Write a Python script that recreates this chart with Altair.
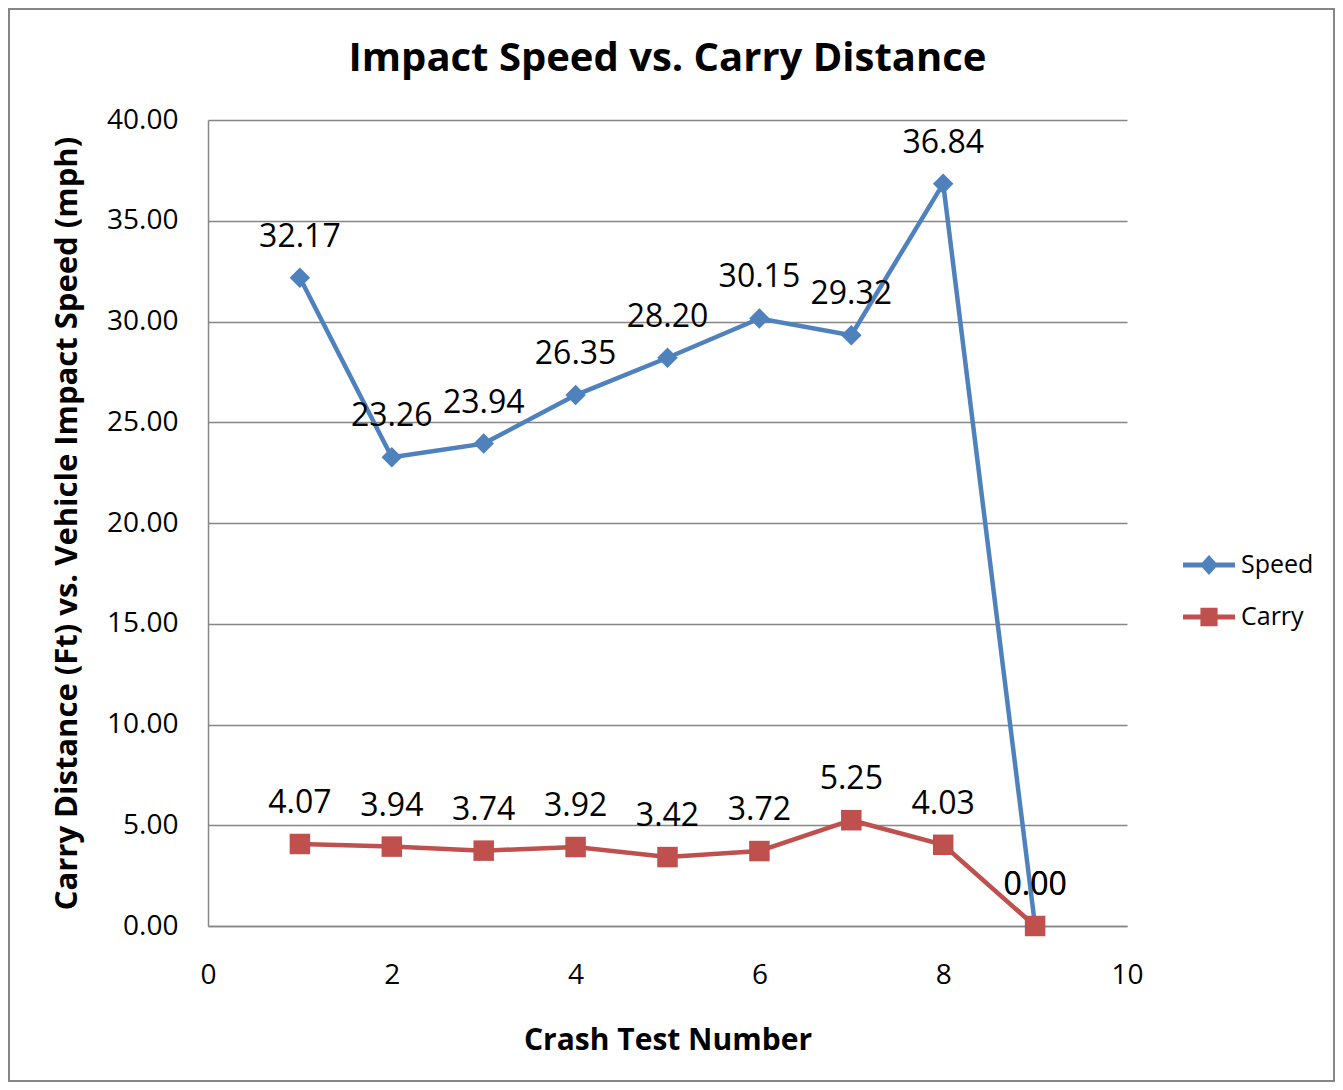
import altair as alt
import pandas as pd

tests = [1, 2, 3, 4, 5, 6, 7, 8, 9]
speed = [32.17, 23.26, 23.94, 26.35, 28.20, 30.15, 29.32, 36.84, 0.00]
carry = [4.07, 3.94, 3.74, 3.92, 3.42, 3.72, 5.25, 4.03, 0.00]
series_names = ["Speed", "Carry"]
series_colors = ["#4F81BD", "#C0504D"]
x_ticks = [0, 2, 4, 6, 8, 10]
y_ticks = [0, 5, 10, 15, 20, 25, 30, 35, 40]

rows = []
for t, v in zip(tests, speed):
    rows.append({"Test": t, "Value": v, "Series": "Speed", "Label": f"{v:.2f}"})
for t, v in zip(tests, carry):
    rows.append({"Test": t, "Value": v, "Series": "Carry", "Label": f"{v:.2f}"})
df = pd.DataFrame(rows)

FONT = "Open Sans"
W, H = 919, 806
PAD = {"left": 200, "top": 112, "right": 208, "bottom": 156}

x_enc = alt.X("Test:Q", scale=alt.Scale(domain=[0, 10], nice=False),
              axis=alt.Axis(values=x_ticks, grid=False, ticks=False, domain=True,
                            domainColor="#868686", domainWidth=1.5, labelFlush=False,
                            labelFontSize=28, labelFont=FONT, labelPadding=35,
                            labelColor="#000000",
                            title="Crash Test Number", titleFont=FONT, titleFontSize=30,
                            titleFontWeight="bold", titleColor="#000000",
                            titleX=459.5, titleY=114, titleBaseline="middle",
                            titleAlign="center"))
y_enc = alt.Y("Value:Q", scale=alt.Scale(domain=[0, 40], nice=False),
              axis=alt.Axis(values=y_ticks, format=".2f", grid=True, gridColor="#868686",
                            gridWidth=1.5, ticks=False, domain=True,
                            domainColor="#868686", domainWidth=1.5,
                            labelFontSize=28, labelFont=FONT, labelPadding=30,
                            labelColor="#000000",
                            title="Carry Distance (Ft) vs. Vehicle Impact Speed (mph)",
                            titleFont=FONT, titleFontSize=31, titleFontWeight="bold",
                            titleColor="#000000", titleAngle=270, titleX=-141, titleY=403,
                            titleAlign="center", titleBaseline="middle"))

color_plain = alt.Color("Series:N", scale=alt.Scale(domain=series_names, range=series_colors),
                        legend=None)

lines = alt.Chart(df).mark_line(strokeWidth=4.5).encode(
    x=x_enc, y=y_enc, color=color_plain, detail="Series:N")

points = alt.Chart(df).mark_point(filled=True, opacity=1, size=420, strokeWidth=0).encode(
    x=x_enc, y=y_enc, color=color_plain,
    shape=alt.Shape("Series:N", scale=alt.Scale(domain=series_names, range=["diamond", "square"]),
                    legend=None))

labels = alt.Chart(df).mark_text(dy=-31, baseline="alphabetic", align="center",
                                 fontSize=32, font=FONT, color="#000000").encode(
    x=x_enc, y=y_enc, text="Label:N")

speed_path = "M-1,-0.1L1,-0.1L1,0.1L-1,0.1Z M0,-0.38L0.35,0L0,0.38L-0.35,0Z"
carry_path = "M-1,-0.1L1,-0.1L1,0.1L-1,0.1Z M-0.33,-0.36L0.33,-0.36L0.33,0.36L-0.33,0.36Z"

legend_def = alt.Legend(title=None, orient="none", legendX=975, legendY=419,
                        symbolSize=2704, symbolStrokeWidth=0, labelFont=FONT,
                        labelFontSize=25, labelColor="#000000", labelOffset=6,
                        rowPadding=13, padding=0)
legend_layer = alt.Chart(df).transform_calculate(Legend="datum.Series").transform_filter(
    "false").mark_point(filled=True, size=2704, opacity=1).encode(
    x=x_enc, y=y_enc,
    color=alt.Color("Legend:N", scale=alt.Scale(domain=series_names, range=series_colors),
                    legend=legend_def),
    shape=alt.Shape("Legend:N", scale=alt.Scale(domain=series_names,
                                                range=[speed_path, carry_path]),
                    legend=legend_def))

border_df = pd.DataFrame({"b": [1]})
border = alt.Chart(border_df).mark_rect(filled=False, stroke="#868686", strokeWidth=2,
                                        clip=False).encode(
    x=alt.value(-PAD["left"] + 1), x2=alt.value(W + PAD["right"] - 1),
    y=alt.value(-PAD["top"] + 1), y2=alt.value(H + PAD["bottom"] - 1))

chart = alt.layer(border, lines, points, labels, legend_layer).resolve_scale(
    color="independent", shape="independent"
).properties(
    width=W, height=H,
    padding=PAD,
    autosize=alt.AutoSizeParams(type="none"),
    background="#FFFFFF",
    title=alt.TitleParams("Impact Speed vs. Carry Distance", font=FONT, fontSize=40,
                          fontWeight="bold", color="#000000", anchor="middle", offset=0,
                          baseline="alphabetic", dy=103),
).configure_view(stroke=None)

chart.save("out.html", embed_options={"renderer": "svg", "actions": False})
